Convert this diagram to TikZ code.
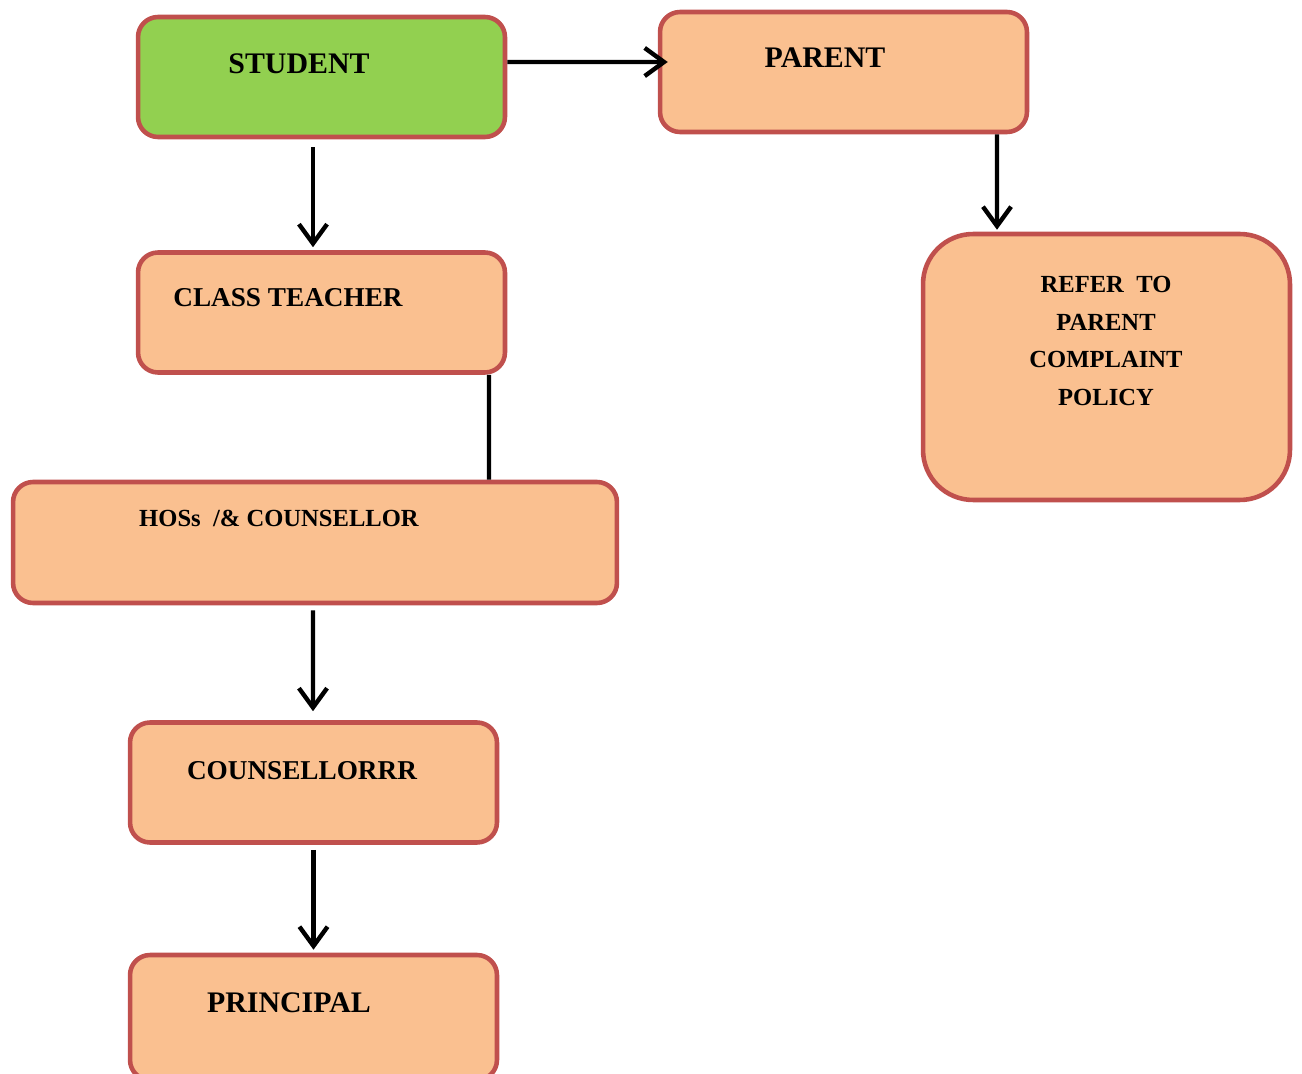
\documentclass[tikz,border=0pt]{standalone}
\usepackage{fontspec}
\setmainfont{Liberation Serif}
\usetikzlibrary{arrows.meta}
\definecolor{boxfill}{HTML}{FAC090}
\definecolor{boxedge}{HTML}{C0504D}
\definecolor{studentgreen}{HTML}{92D050}

\begin{document}
\begin{tikzpicture}[x=0.02cm, y=-0.02cm,
  box/.style={draw=boxedge, fill=boxfill, line width=2.6pt, rounded corners=0.4cm, minimum width=7.34cm, minimum height=2.4cm, inner sep=0pt},
  lbl/.style={font=\bfseries\fontsize{#1pt}{#1pt}\selectfont, inner sep=0pt, anchor=base},
  flow/.style={line width=2.5pt, -{Straight Barb[length=11pt, width=16pt]}}]
\useasboundingbox (0,0) rectangle (1302,1074);
\node[box, fill=studentgreen] (student) at (321.5,77) {};
\node[box] (parent) at (843.5,72) {};
\node[box] (teacher) at (321.5,312.5) {};
\node[box, minimum height=5.32cm, rounded corners=1cm] (refer) at (1106.5,367) {};
\node[box, minimum width=12.08cm, minimum height=2.42cm] (hos) at (315,542.5) {};
\node[box] (counsellor) at (313.5,782.5) {};
\node[box, minimum height=2.5cm] (principal) at (313.5,1017.5) {};
\node[lbl=17] (studentlbl) at (299,74) {STUDENT};
\node[lbl=17] (parentlbl) at (825,68) {PARENT};
\node[lbl=15.5] (teacherlbl) at (288,307) {CLASS TEACHER};
\node[lbl=14, anchor=center, align=center, font=\bfseries\fontsize{14pt}{21.5pt}\selectfont] (referlbl) at (1106,341) {REFER\ \ TO\\PARENT\\COMPLAINT\\POLICY};
\node[lbl=14] (hoslbl) at (279,526) {HOSs\ \ /\&\ COUNSELLOR};
\node[lbl=15.5] (counsellorlbl) at (302,779) {COUNSELLORRR};
\node[lbl=17] (principallbl) at (289,1012) {PRINCIPAL};
\draw[flow] ([yshift=0.3cm]student.east) -- ([xshift=0.2cm,yshift=0.2cm]parent.west);
\draw[flow] ([xshift=-0.17cm,yshift=-0.16cm]student.south) -- ([xshift=-0.17cm,yshift=0.06cm]teacher.north);
\draw[flow] ([xshift=3.07cm]parent.south) -- ([xshift=-2.19cm,yshift=0.04cm]refer.north);
\draw[line width=2.5pt] ([xshift=3.35cm]teacher.south) -- ([xshift=3.48cm]hos.north);
\draw[flow] ([xshift=-0.04cm,yshift=-0.1cm]hos.south) -- ([xshift=-0.01cm,yshift=0.18cm]counsellor.north);
\draw[flow] ([yshift=-0.1cm]counsellor.south) -- ([yshift=0.06cm]principal.north);
\end{tikzpicture}
\end{document}
